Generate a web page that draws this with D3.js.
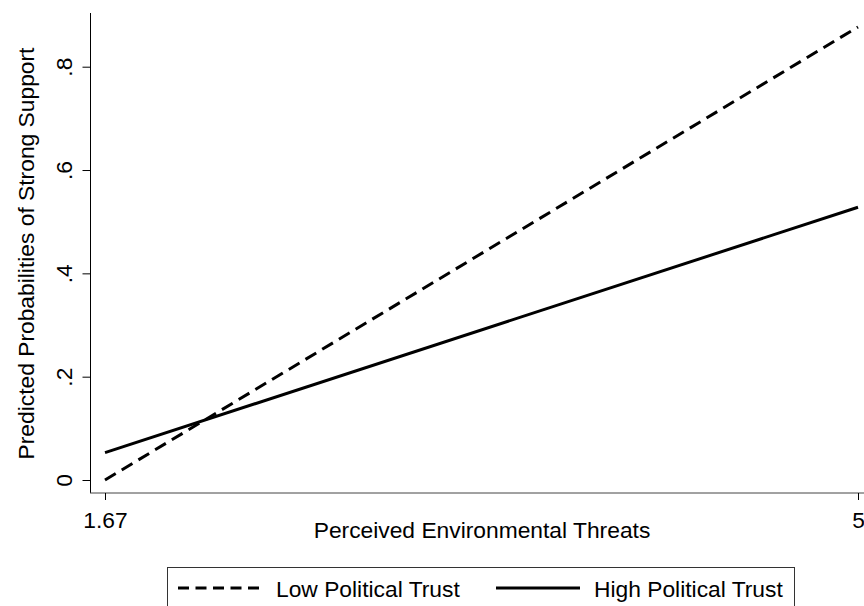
<!DOCTYPE html>
<html>
<head>
<meta charset="utf-8">
<script src="https://cdn.jsdelivr.net/npm/d3@7"></script>
<style>
  body { margin: 0; background: #fff; }
  text { font-family: "Liberation Sans", Arial, sans-serif; fill: #000; }
</style>
</head>
<body>
<script>
// values
var threat = [1.67, 5];
var lowTrust = [0, 0.877];
var highTrust = [0.053, 0.528];
var yTicks = [0, 0.2, 0.4, 0.6, 0.8];
var yTickLabels = ["0", ".2", ".4", ".6", ".8"];
var xTickLabels = ["1.67", "5"];
var seriesNames = ["Low Political Trust", "High Political Trust"];

var W = 864, H = 606, fs = 22.8;

var svg = d3.select("body").append("svg")
  .attr("width", W).attr("height", H);

var x = d3.scaleLinear().domain([1.67, 5]).range([105, 858]);
var y = d3.scaleLinear().domain([0, 0.8]).range([480, 66.7]);

// y axis
var yAxis = d3.axisLeft(y).tickValues(yTicks).tickSize(8).tickSizeOuter(0)
  .tickFormat(function(d, i){ return yTickLabels[i]; });
var gy = svg.append("g").attr("transform", "translate(90.5,0)").call(yAxis);
gy.select(".domain").attr("d", "M0,13V493").attr("stroke", "#000");
gy.selectAll(".tick line").attr("stroke", "#000");
gy.selectAll(".tick text")
  .attr("font-size", fs).attr("font-family", "Liberation Sans, Arial, sans-serif")
  .attr("x", null).attr("dy", null)
  .attr("text-anchor", "middle")
  .attr("transform", "translate(-18.5,0) rotate(-90)");

// x axis
var xAxis = d3.axisBottom(x).tickValues(threat).tickSize(7).tickSizeOuter(0)
  .tickFormat(function(d, i){ return xTickLabels[i]; });
var gx = svg.append("g").attr("transform", "translate(0,493)").call(xAxis);
gx.select(".domain").attr("d", "M90,0H864").attr("stroke", "#444");
gx.selectAll(".tick line").attr("stroke", "#000");
gx.selectAll(".tick text")
  .attr("font-size", fs).attr("font-family", "Liberation Sans, Arial, sans-serif")
  .attr("y", 35).attr("dy", null);

// axis titles
svg.append("text").attr("x", 482).attr("y", 538)
  .attr("text-anchor", "middle").attr("font-size", fs)
  .text("Perceived Environmental Threats");
svg.append("text")
  .attr("transform", "translate(33.5,253.5) rotate(-90)")
  .attr("text-anchor", "middle").attr("font-size", fs)
  .text("Predicted Probabilities of Strong Support");

// lines
var line = d3.line().x(function(d){ return x(d[0]); }).y(function(d){ return y(d[1]); });
svg.append("path").datum(d3.zip(threat, lowTrust)).attr("d", line)
  .attr("fill", "none").attr("stroke", "#000").attr("stroke-width", 3)
  .attr("stroke-dasharray", "12.5,7");
svg.append("path").datum(d3.zip(threat, highTrust)).attr("d", line)
  .attr("fill", "none").attr("stroke", "#000").attr("stroke-width", 3);

// legend
var lg = svg.append("g");
lg.append("rect").attr("x", 167.5).attr("y", 567.5).attr("width", 627).attr("height", 60)
  .attr("fill", "none").attr("stroke", "#333").attr("stroke-width", 1);
var items = [
  {name: seriesNames[0], x1: 178, x2: 262, tx: 276, dash: "11,6.5"},
  {name: seriesNames[1], x1: 496, x2: 580, tx: 594, dash: null}
];
items.forEach(function(it){
  lg.append("line").attr("x1", it.x1).attr("x2", it.x2).attr("y1", 588).attr("y2", 588)
    .attr("stroke", "#000").attr("stroke-width", 3)
    .attr("stroke-dasharray", it.dash);
  lg.append("text").attr("x", it.tx).attr("y", 597).attr("font-size", fs).text(it.name);
});
</script>
</body>
</html>
